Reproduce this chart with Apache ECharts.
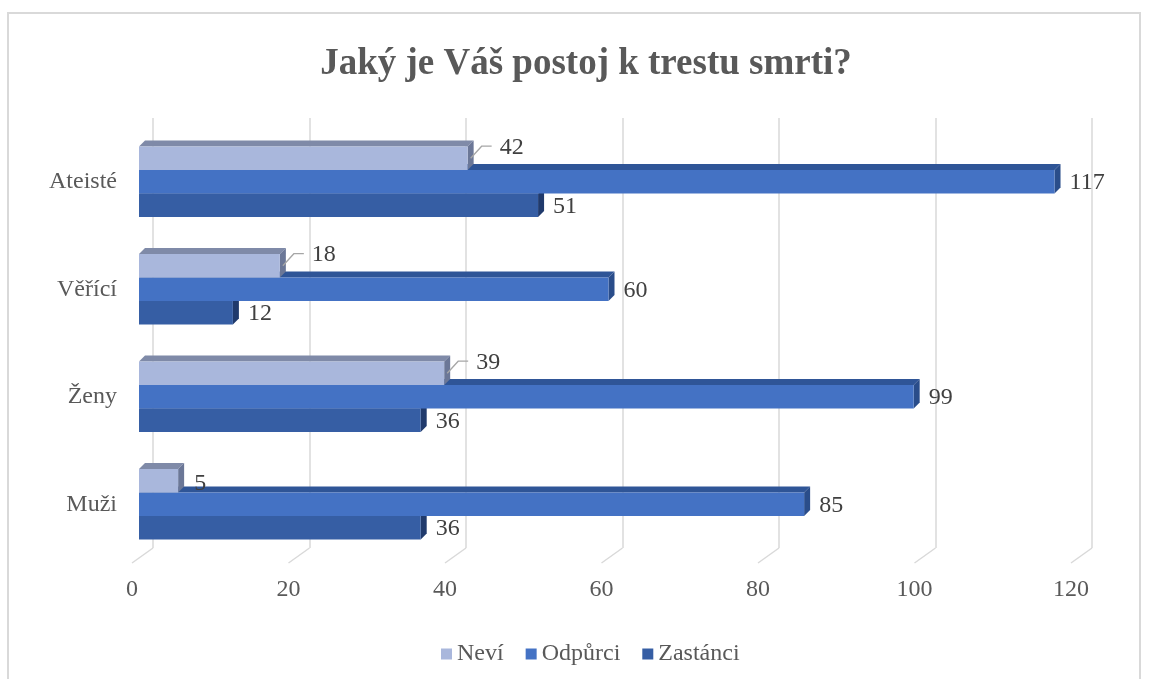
<!DOCTYPE html>
<html>
<head>
<meta charset="utf-8">
<style>
html, body { margin: 0; padding: 0; background: #fff; }
#chart { width: 1150px; height: 679px; }
</style>
<script src="https://cdn.jsdelivr.net/npm/echarts@6/dist/echarts.min.js"></script>
</head>
<body>
<div id="chart"></div>
<script>
// kategorie odspodu nahoru (Muži dole, Ateisté nahoře)
var categories = ["Muži", "Ženy", "Věřící", "Ateisté"];
var nevi = [5, 39, 18, 42];
var odpurci = [85, 99, 60, 117];
var zastanci = [36, 36, 12, 51];
var xTicks = [0, 20, 40, 60, 80, 100, 120];

var FONT = "'Liberation Serif', 'Times New Roman', serif";
var D = 6; // hloubka 3D

var myChart = echarts.init(document.getElementById("chart"));

function toData(arr) {
  return arr.map(function (v, i) {
    return [v, i];
  });
}

// slot: -1 nahoře, 0 uprostřed, 1 dole
function barRenderer(slot, front, top, side, leader) {
  return function (params, api) {
    var val = api.value(0);
    var cat = api.value(1);
    var p0 = api.coord([0, cat]);
    var p1 = api.coord([val, cat]);
    var band = api.size([0, 1])[1];
    var h = band * 0.219;
    var yT = p0[1] + slot * h - h / 2;
    var x0 = p0[0], x1 = p1[0];
    var cy = yT + h / 2;
    var children = [
      {
        type: "polygon",
        shape: { points: [[x0, yT], [x0 + D, yT - D], [x1 + D, yT - D], [x1, yT]] },
        style: { fill: top }
      },
      {
        type: "polygon",
        shape: { points: [[x1, yT], [x1 + D, yT - D], [x1 + D, yT + h - D], [x1, yT + h]] },
        style: { fill: side }
      },
      {
        type: "rect",
        shape: { x: x0, y: yT, width: x1 - x0, height: h },
        style: { fill: front }
      }
    ];
    var tx = x1 + 15, ty = cy + 1;
    if (leader && val >= 10) {
      children.push({
        type: "polyline",
        shape: { points: [[x1 + 3, cy], [x1 + 14, cy - 12], [x1 + 24, cy - 12]] },
        style: { stroke: "#a6a6a6", lineWidth: 1.3, fill: null }
      });
      tx = x1 + 32;
      ty = cy - 11;
    } else if (leader) {
      tx = x1 + 16;
      ty = cy + 3;
    }
    children.push({
      type: "text",
      style: {
        x: tx, y: ty, text: String(val),
        fill: "#404040", font: "24px " + FONT,
        align: "left", verticalAlign: "middle"
      }
    });
    return { type: "group", children: children };
  };
}

function floorRenderer(params, api) {
  var p = api.coord([api.value(0), 0]);
  var band = api.size([0, 1])[1];
  var yb = p[1] + band / 2;
  return {
    type: "line",
    shape: { x1: p[0], y1: yb, x2: p[0] - 21, y2: yb + 15 },
    style: { stroke: "#d9d9d9", lineWidth: 1.5 }
  };
}

var option = {
  backgroundColor: "#fff",
  animation: false,
  title: {
    text: "Jaký je Váš postoj k trestu smrti?",
    left: 581,
    textAlign: "center",
    top: 41,
    textStyle: {
      fontFamily: FONT,
      fontWeight: "bold",
      fontSize: 37,
      color: "#595959"
    }
  },
  legend: {
    data: ["Neví", "Odpůrci", "Zastánci"],
    left: 436,
    top: 637,
    icon: "rect",
    itemWidth: 11,
    itemHeight: 11,
    itemGap: 22,
    textStyle: { fontFamily: FONT, fontSize: 24, color: "#595959" }
  },
  graphic: [
    { type: "line", shape: { x1: 8, y1: 13, x2: 1141, y2: 13 }, style: { stroke: "#d9d9d9", lineWidth: 2 } },
    { type: "line", shape: { x1: 8, y1: 12, x2: 8, y2: 679 }, style: { stroke: "#d9d9d9", lineWidth: 2 } },
    { type: "line", shape: { x1: 1140, y1: 12, x2: 1140, y2: 679 }, style: { stroke: "#d9d9d9", lineWidth: 2 } }
  ],
  grid: [
    { left: 139, width: 939, top: 128, height: 430 },
    { left: 153, width: 939, top: 118, height: 430 },
    { left: 132, width: 939, top: 118, height: 445 }
  ],
  xAxis: [
    { gridIndex: 0, type: "value", min: 0, max: 120, interval: 20, show: false },
    {
      gridIndex: 1, type: "value", min: 0, max: 120, interval: 20,
      axisLine: { show: false }, axisTick: { show: false }, axisLabel: { show: false },
      splitLine: { show: true, lineStyle: { color: "#d9d9d9", width: 1.5 } }
    },
    {
      gridIndex: 2, type: "value", min: 0, max: 120, interval: 20,
      axisLine: { show: false }, axisTick: { show: false }, splitLine: { show: false },
      axisLabel: { margin: 15, fontFamily: FONT, fontSize: 24, color: "#595959" }
    }
  ],
  yAxis: [
    {
      gridIndex: 0, type: "category", data: categories,
      axisLine: { show: false }, axisTick: { show: false },
      axisLabel: { margin: 22, padding: [10, 0, 0, 0], fontFamily: FONT, fontSize: 24, color: "#595959" }
    },
    { gridIndex: 1, type: "category", data: categories, show: false },
    { gridIndex: 2, type: "category", data: categories, show: false }
  ],
  series: [
    {
      name: "floor", type: "custom", xAxisIndex: 1, yAxisIndex: 1,
      data: xTicks.map(function (t) { return [t, 0]; }),
      encode: { x: 0, y: 1 }, renderItem: floorRenderer, silent: true, z: 1
    },
    {
      name: "Zastánci", type: "custom", xAxisIndex: 0, yAxisIndex: 0,
      data: toData(zastanci), encode: { x: 0, y: 1 },
      itemStyle: { color: "#365ea4" }, z: 2,
      renderItem: barRenderer(1, "#365ea4", "#25427a", "#203a6c", false)
    },
    {
      name: "Odpůrci", type: "custom", xAxisIndex: 0, yAxisIndex: 0,
      data: toData(odpurci), encode: { x: 0, y: 1 },
      itemStyle: { color: "#4472c4" }, z: 3,
      renderItem: barRenderer(0, "#4472c4", "#2f5597", "#2a4d8a", false)
    },
    {
      name: "Neví", type: "custom", xAxisIndex: 0, yAxisIndex: 0,
      data: toData(nevi), encode: { x: 0, y: 1 },
      itemStyle: { color: "#a9b7dc" }, z: 4,
      renderItem: barRenderer(-1, "#a9b7dc", "#7f8aa8", "#6b7797", true)
    }
  ]
};

myChart.setOption(option);
window.onresize = myChart.resize;
</script>
</body>
</html>
